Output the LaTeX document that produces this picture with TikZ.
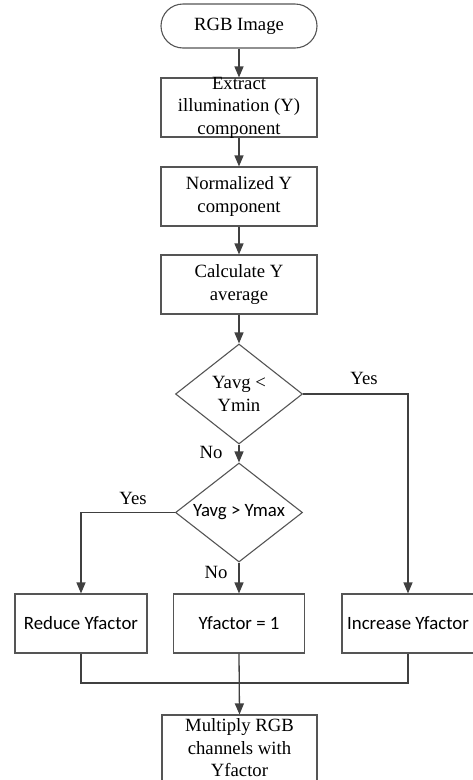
\documentclass[tikz,border=0pt]{standalone}
\usepackage{fontspec}
\setmainfont{Liberation Serif}
\newfontfamily\calib{Carlito}
\usetikzlibrary{shapes.geometric,arrows.meta}
\definecolor{ln}{HTML}{404040}
\definecolor{bd}{HTML}{555555}
\tikzset{
  box/.style={draw=bd,line width=1.1pt,rectangle,inner sep=0pt},
  dia/.style={draw=bd,line width=1.1pt,diamond,inner sep=0pt},
  term/.style={draw=bd,line width=1.1pt,rectangle,rounded corners=22pt,inner sep=0pt},
  lbl/.style={inner sep=0pt,align=center,font=\fontsize{18.7}{22.5}\selectfont},
  slbl/.style={inner sep=0pt,align=center,font=\calib\fontsize{18.8}{22.5}\selectfont},
  conn/.style={draw=ln,line width=1.3pt},
  arr/.style={conn,-{Triangle[length=11pt,width=9pt]}}
}
\begin{document}
\begin{tikzpicture}[x=1pt,y=-1pt]
\useasboundingbox (0,0) rectangle (473,780);
\clip (0,0) rectangle (473,780);
% shapes
\node[term,minimum width=156pt,minimum height=44pt] (start) at (239,26) {};
\node[box,minimum width=156pt,minimum height=59pt] (b1) at (239,107.5) {};
\node[box,minimum width=156pt,minimum height=59pt] (b2) at (239,196.5) {};
\node[box,minimum width=156pt,minimum height=59pt] (b3) at (239,284.5) {};
\node[dia,minimum width=127pt,minimum height=100pt] (d1) at (239,394) {};
\node[dia,minimum width=127pt,minimum height=99pt] (d2) at (239,512.5) {};
\node[box,minimum width=132pt,minimum height=59pt] (red) at (81,623.5) {};
\node[box,minimum width=131pt,minimum height=59pt] (one) at (239,623.5) {};
\node[box,minimum width=132pt,minimum height=59pt] (inc) at (408,623.5) {};
\node[box,minimum width=155pt,minimum height=70pt] (mul) at (239.5,750) {};
% texts
\node[lbl] (tstart) at (start) {RGB Image};
\node[lbl] (tb1) at (b1) {Extract\\illumination (Y)\\component};
\node[lbl] (tb2) at (b2) {Normalized Y\\component};
\node[lbl] (tb3) at (b3) {Calculate Y\\average};
\node[lbl] (td1) at (d1) {Yavg <\\Ymin};
\node[slbl] (td2) at (d2) {Yavg > Ymax};
\node[slbl] (tred) at (red) {Reduce Yfactor};
\node[slbl] (tone) at (one) {Yfactor = 1};
\node[slbl] (tinc) at (inc) {Increase Yfactor};
\node[lbl] (tmul) at (239.5,748) {Multiply RGB\\channels with\\Yfactor};
% edge labels
\node[lbl] (yes1) at (364,378) {Yes};
\node[lbl] (no1) at (211,452) {No};
\node[lbl] (yes2) at (133,498) {Yes};
\node[lbl] (no2) at (216,572) {No};
% connectors
\draw[arr] (start) -- (b1);
\draw[arr] (b1) -- (b2);
\draw[arr] (b2) -- (b3);
\draw[arr] (b3) -- (d1);
\draw[arr] (d1) -- (d2);
\draw[arr] (d1.east) -| (inc.north);
\draw[arr] (d2.west) -| (red.north);
\draw[arr] (d2) -- (one);
\coordinate (j) at (239,683);
\draw[conn] (red.south) |- (j) -| (inc.south);
\draw[arr] (one.south) -- (mul.north);
\end{tikzpicture}
\end{document}
